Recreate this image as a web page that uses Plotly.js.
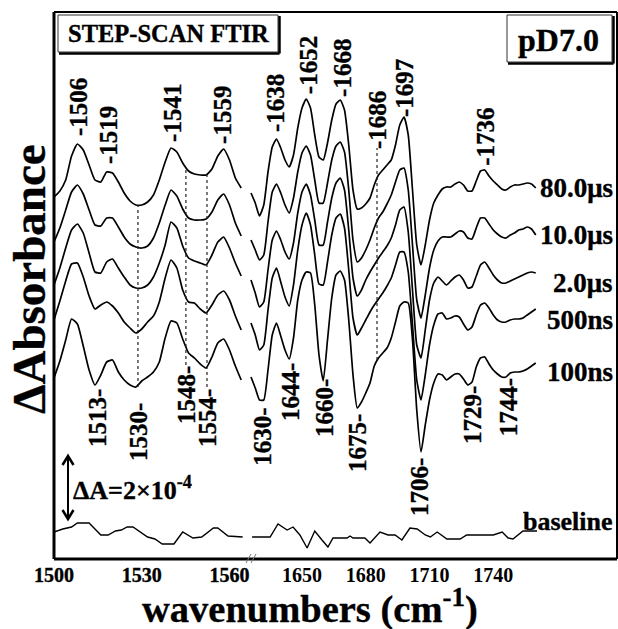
<!DOCTYPE html>
<html>
<head>
<meta charset="utf-8">
<script src="https://cdn.plot.ly/plotly-3.0.1.min.js"></script>
<style>
html,body{margin:0;padding:0;background:#fff}
#chart{width:618px;height:629px}
#chart .annotation-text, #chart .xtick text { stroke:#000; stroke-width:0.35px; }
</style>
</head>
<body>
<div id="chart"></div>
<script>
// ---------------- DATA (y in arbitrary units; 63 units = ΔA 2×10^-4) ----------------
const wnLeft = [1500,1502,1504,1506,1508,1510,1512,1514,1516,1518,1520,1522,1524,1526,1528,1530,1532,1534,1536,1538,1540,1542,1544,1546,1548,1550,1552,1554,1556,1558,1560,1562,1564];
const wnRight = [1626,1628,1630,1632,1634,1636,1638,1640,1642,1644,1646,1648,1650,1652,1654,1656,1658,1660,1662,1664,1666,1668,1670,1672,1674,1676,1678,1680,1682,1684,1686,1688,1690,1692,1694,1696,1698,1700,1702,1704,1706,1708,1710,1712,1714,1716,1718,1720,1722,1724,1726,1728,1730,1732,1734,1736,1738,1740,1742,1744,1746,1748,1750,1752,1754,1756,1758,1760];

const seriesNames = ['80.0μs','10.0μs','2.0μs','500ns','100ns'];

const s80L  = [3,9,20,44,56,50,35,20,18,28,27,18,7,-1,-5,-5,-2,5,20,38,52,48,37,29,26,25,25,31,44,51,40,22,12];
const s10L  = [3,17,35,53,60,51,35,20,19,27,27,18,8,1,-2,-3,-1,7,22,40,55,49,36,27,25,25,26,33,45,51,40,22,9];
const s2L   = [0,17,37,55,61,52,32,13,12,23,26,17,8,0,-3,-3,0,8,22,40,63,57,39,27,24,22,20,30,43,48,37,22,9];
const s500L = [5,24,44,61,62,48,29,16,20,23,19,12,3,-3,-8,-4,3,9,23,47,65,57,35,23,22,16,12,20,30,34,25,9,-5];
const s100L = [2,19,40,61,56,34,10,-5,5,18,20,8,0,-5,-7,-1,3,8,18,42,59,57,41,27,22,16,12,23,37,41,30,14,0];

const s80R  = [7,-3,-16,-5,28,53,61,52,40,33,45,72,92,101,92,65,43,40,57,80,96,100,90,55,10,-9,-8,-4,2,15,25,30,35,40,55,75,83,65,10,-45,-65,-45,-20,-3,5,11,13,13,16,18,15,9,9,19,29,30,24,19,15,11,10,13,15,15,16,17,16,12];
const s10R  = [5,-5,-15,-10,23,53,61,52,40,32,47,73,92,99,90,65,42,42,62,85,99,103,93,55,5,-17,-13,-5,5,17,27,33,41,50,63,75,77,55,0,-55,-73,-50,-23,-5,4,8,8,8,11,14,13,7,6,17,27,27,21,15,11,8,7,10,12,15,16,18,16,10];
const s2R   = [5,-8,-22,-17,15,45,54,45,33,26,42,72,93,101,90,65,40,40,63,87,102,107,95,55,7,-11,-5,5,13,20,27,33,39,47,60,75,78,53,-5,-60,-73,-45,-15,2,8,4,0,4,8,10,5,-3,-2,9,20,23,17,10,5,2,2,4,6,8,10,12,13,12];
const s500R = [2,-10,-25,-20,15,47,57,43,28,19,40,75,100,112,100,70,41,40,63,90,107,111,97,55,7,-10,-3,5,13,20,26,32,39,47,60,73,73,53,0,-55,-75,-50,-20,0,11,12,6,7,9,8,1,-5,-2,10,20,22,17,10,5,3,3,5,6,6,7,10,13,16];
const s100R = [3,-8,-20,-20,10,45,57,44,30,21,42,80,100,108,107,75,25,-1,40,82,105,109,100,60,5,-28,-22,-13,-3,14,22,27,32,42,58,74,78,77,40,-30,-72,-45,-20,-3,6,5,0,3,6,6,1,-5,-2,13,22,23,16,10,6,3,3,7,8,8,9,11,14,17];

const baseWnL = [1500,1503,1506,1508,1512,1516,1518.5,1521,1523,1525,1527,1532,1534.5,1537,1541,1544,1547.5,1550.5,1554.5,1556,1559.5,1564.5];
const baseL   = [1,4,6,10,10,-2,-2,2,3,6,6,-4,-6,-11,-11,1,-5,-4,5,5,-3,-4];
const baseWnR = [1626.5,1635,1638.7,1643,1645.8,1649,1652.4,1656,1659.4,1662.2,1664.6,1671.2,1672.6,1674,1679.6,1682,1686.7,1690.5,1693.8,1697,1700.8,1704.2,1708,1710.4,1713.6,1718.2,1724.4,1727.5,1740,1744.2,1747,1749.3,1754,1760.6];
const baseR   = [-4,-4,9,3,6,-2,-15,2,-7,-14,-5,-5,-3,-5,-5,-10,1,-2,-2,-7,5,4,-2,-4,1,-6,-6,-2,-2,1,-5,-6,2,2];

// peak labels (text) and where they sit along the wavenumber axis
const topPeakText  = ['1506','1519','1541','1559','1638','1652','1668','1686','1697','1736'];
const topPeakPos   = [1508.2,1518.5,1540.3,1557.4,1637.3,1652.9,1668.8,1685.3,1698,1736];
const botPeakText  = ['1513','1530','1548','1554','1630','1644','1660','1675','1706','1729','1744'];
const botPeakPos   = [1514.7,1528.7,1545.1,1552.3,1631,1644.4,1660.3,1675.9,1705,1730,1747];
const dottedPos    = [1528.7,1545.1,1552.3,1685.3];

const xTicksLeft  = [1500,1530,1560];
const xTicksRight = [1650,1680,1710,1740];

// ---------------- LAYOUT HELPERS ----------------
const W = 618, H = 629, ML = 54, MR = 1, MT = 12, MB = 70;
const PW = W - ML - MR, PH = H - MT - MB;
const pxX = px => (px - ML) / PW;
const pxY = py => (H - MB - py) / PH;
const yv  = py => (H - MB - py);          // y-axis range [0,PH] maps to pixels
const split = pxX(246);
const FONT = '"Liberation Serif", "Times New Roman", Times, serif';
const F = size => ({family: FONT, size: size, color:'#000', weight:'bold'});

const offsets = [359, 314, 274, 234, 179];
const baseOffset = 26;
const scaleBarUnits = 63;   // ΔA = 2×10^-4

const topLabelY  = [137,165,143,145,133,95,98,150,118,167].map(yv);
const botLabelY  = [388,402,365,388,407,362,378,413,457,385,377].map(yv);
const dottedY0   = [387,365,387,360].map(yv);
const dottedY1   = [205,170,175,148].map(yv);
const seriesLabelY = [188,235,283,320,372].map(yv);

// ---------------- TRACES ----------------
const traces = [];
const lineStyle = {color:'#000', width:1.7, shape:'spline', smoothing:0.5};
[[s80L,s80R],[s10L,s10R],[s2L,s2R],[s500L,s500R],[s100L,s100R]].forEach((g,i) => {
  traces.push({x: wnLeft,  y: g[0].map(v => v + offsets[i]), xaxis:'x',  yaxis:'y', mode:'lines', line: lineStyle, name: seriesNames[i], hoverinfo:'skip'});
  traces.push({x: wnRight, y: g[1].map(v => v + offsets[i]), xaxis:'x2', yaxis:'y', mode:'lines', line: lineStyle, name: seriesNames[i], hoverinfo:'skip'});
});
const baseStyle = {color:'#000', width:1.4};
traces.push({x: baseWnL, y: baseL.map(v => v + baseOffset), xaxis:'x',  yaxis:'y', mode:'lines', line: baseStyle, hoverinfo:'skip'});
traces.push({x: baseWnR, y: baseR.map(v => v + baseOffset), xaxis:'x2', yaxis:'y', mode:'lines', line: baseStyle, hoverinfo:'skip'});

// ---------------- ANNOTATIONS ----------------
const ann = [];
const axOf = wn => (wn < 1600 ? 'x' : 'x2');
topPeakText.forEach((t,i) => ann.push({xref: axOf(topPeakPos[i]), yref:'y', x: topPeakPos[i], y: topLabelY[i],
  text: '-' + t, textangle: -90, xanchor:'center', yanchor:'bottom', showarrow:false, font:F(25), borderpad:0}));
botPeakText.forEach((t,i) => ann.push({xref: axOf(botPeakPos[i]), yref:'y', x: botPeakPos[i], y: botLabelY[i],
  text: t + '-', textangle: -90, xanchor:'center', yanchor:'top', showarrow:false, font:F(25), borderpad:0}));
seriesNames.forEach((t,i) => ann.push({xref:'paper', yref:'y', x: pxX(615), y: seriesLabelY[i], text: t,
  xanchor:'right', yanchor:'middle', showarrow:false, font:F(27)}));
ann.push({xref:'paper', yref:'y', x: pxX(615), y: yv(521), text:'baseline', xanchor:'right', yanchor:'middle', showarrow:false, font:F(26)});
ann.push({xref:'paper', yref:'paper', x: pxX(168), y: pxY(34), text:'STEP-SCAN FTIR', xanchor:'center', yanchor:'middle', showarrow:false, font:F(24.5)});
ann.push({xref:'paper', yref:'paper', x: pxX(558), y: pxY(40), text:'pD7.0', xanchor:'center', yanchor:'middle', showarrow:false, font:F(32)});
ann.push({xref:'paper', yref:'paper', x: pxX(71), y: pxY(488), text:'ΔA=2×10<sup>-4</sup>', xanchor:'left', yanchor:'middle', showarrow:false, font:F(26)});
ann.push({xref:'paper', yref:'paper', x: pxX(29), y: pxY(279), text:'ΔAbsorbance', textangle:-90, xanchor:'center', yanchor:'middle', showarrow:false, font:F(47)});
ann.push({xref:'paper', yref:'paper', x: pxX(310), y: pxY(606.5), text:'wavenumbers (cm<sup>-1</sup>)', xanchor:'center', yanchor:'middle', showarrow:false, font:F(38.5), borderpad:0});

// ---------------- SHAPES ----------------
const shapes = [];
dottedPos.forEach((wn,i) => shapes.push({type:'line', xref: axOf(wn), yref:'y', x0: wn, x1: wn, y0: dottedY0[i], y1: dottedY1[i],
  line:{color:'#222', width:1.2, dash:'dot'}}));
const pl = (x0,y0,x1,y1,w,c) => ({type:'line', xref:'paper', yref:'paper', x0:pxX(x0), y0:pxY(y0), x1:pxX(x1), y1:pxY(y1), line:{color:c||'#000', width:w}});
shapes.push({type:'line', xref:'paper', yref:'paper', x0:0, x1:0, y0:0, y1:1, line:{color:'#000', width:3}});
shapes.push({type:'line', xref:'paper', yref:'paper', x0:0, x1:1, y0:0, y1:0, line:{color:'#000', width:3}});
shapes.push({type:'line', xref:'paper', yref:'paper', x0:0, x1:1, y0:1, y1:1, line:{color:'#000', width:2}});
shapes.push({type:'line', xref:'paper', yref:'paper', x0:1, x1:1, y0:0, y1:1, line:{color:'#000', width:2}});
// axis break marks
shapes.push(pl(246,563,251,554,1,'#777'));
shapes.push(pl(251,563,256,554,1,'#777'));
// boxes
shapes.push({type:'rect', xref:'paper', yref:'paper', x0:pxX(58), x1:pxX(278), y0:pxY(52), y1:pxY(15), line:{color:'#333', width:1}});
shapes.push(pl(279.5,16,279.5,53.5,2.5));
shapes.push(pl(59,53.5,279.5,53.5,2.5));
shapes.push({type:'rect', xref:'paper', yref:'paper', x0:pxX(507), x1:pxX(612), y0:pxY(62), y1:pxY(15), line:{color:'#333', width:1}});
shapes.push(pl(613.5,16,613.5,63.5,2.5));
shapes.push(pl(508,63.5,613.5,63.5,2.5));
// ΔA scale bar (double arrow), length tied to the data scale
const barTop = yv(456), barBot = barTop - scaleBarUnits, ax = pxX(68), hw = 5.5 / PW, hh = 9;
shapes.push({type:'line', xref:'paper', yref:'y', x0:ax, x1:ax, y0:barBot, y1:barTop, line:{color:'#000', width:2}});
shapes.push({type:'path', xref:'paper', yref:'y', path:`M ${ax-hw},${barTop-hh} L ${ax},${barTop} L ${ax+hw},${barTop-hh}`, line:{color:'#000', width:2.5}});
shapes.push({type:'path', xref:'paper', yref:'y', path:`M ${ax-hw},${barBot+hh} L ${ax},${barBot} L ${ax+hw},${barBot+hh}`, line:{color:'#000', width:2.5}});

const axisCommon = {showline:false, showgrid:false, zeroline:false, ticks:'', tickfont:F(20), fixedrange:true, anchor:'y', ticklabelstandoff:2};
const layout = {
  width: W, height: H,
  margin: {l:ML, r:MR, t:MT, b:MB, pad:0},
  paper_bgcolor:'#fff', plot_bgcolor:'#fff',
  font: F(20),
  showlegend:false,
  xaxis:  Object.assign({}, axisCommon, {domain:[0, split], range:[1500, 1500 + 192/2.925], tickvals: xTicksLeft}),
  xaxis2: Object.assign({}, axisCommon, {domain:[split, 1], range:[1650 - 56/2.125, 1650 + 315/2.125], tickvals: xTicksRight}),
  yaxis: {range:[0, PH], showline:false, showgrid:false, zeroline:false, showticklabels:false, ticks:'', fixedrange:true},
  annotations: ann,
  shapes: shapes
};
Plotly.newPlot('chart', traces, layout, {displayModeBar:false, staticPlot:true});
</script>
</body>
</html>
